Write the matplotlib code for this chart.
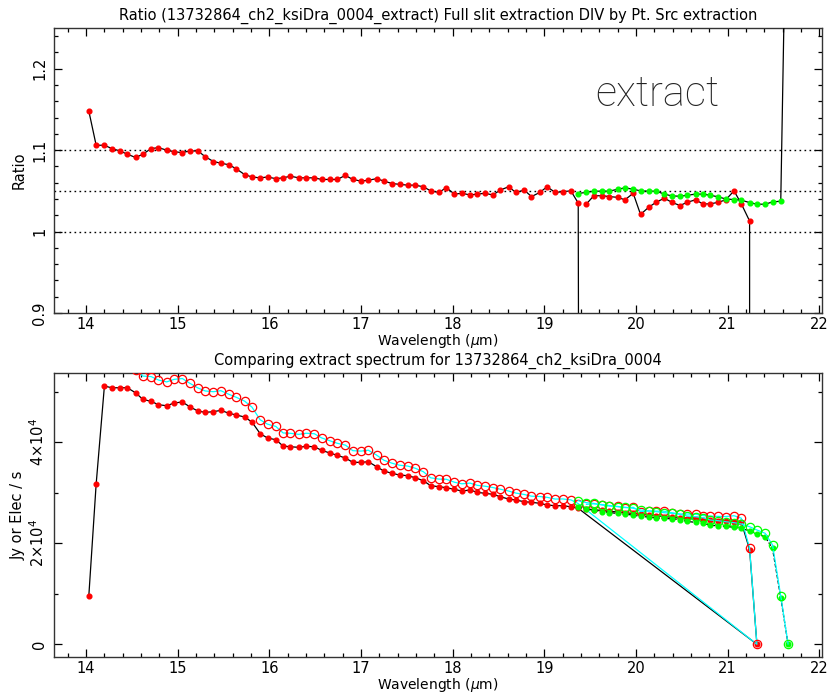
#!/usr/bin/env python3
""" ratio of full slit / point source extraction and the two spectra
"""
import numpy as np
import matplotlib
matplotlib.use('Agg')
import matplotlib.pyplot as plt
from matplotlib.ticker import MultipleLocator, FixedLocator, FixedFormatter

# wavelength grid (um), order 2 = k0..k86, bonus order = k63..k90
wave = [14.03, 14.11, 14.20, 14.28, 14.37, 14.45, 14.54, 14.62, 14.71, 14.79,
        14.88, 14.96, 15.05, 15.13, 15.22, 15.30, 15.39, 15.47, 15.56, 15.64,
        15.73, 15.81, 15.90, 15.98, 16.07, 16.15, 16.23, 16.32, 16.40, 16.49,
        16.57, 16.66, 16.74, 16.83, 16.91, 17.00, 17.08, 17.17, 17.25, 17.34,
        17.42, 17.51, 17.59, 17.68, 17.76, 17.85, 17.93, 18.02, 18.10, 18.19,
        18.27, 18.35, 18.44, 18.52, 18.61, 18.69, 18.78, 18.86, 18.95, 19.03,
        19.12, 19.20, 19.29, 19.37, 19.46, 19.54, 19.63, 19.71, 19.80, 19.88,
        19.97, 20.05, 20.14, 20.22, 20.31, 20.39, 20.48, 20.56, 20.65, 20.73,
        20.81, 20.90, 20.98, 21.07, 21.15, 21.24, 21.32, 21.41, 21.49, 21.58,
        21.66]

# order 2 (red)
ratio_o2 = [1.148, 1.106, 1.106, 1.102, 1.099, 1.095, 1.091, 1.095, 1.102, 1.103,
            1.100, 1.098, 1.097, 1.099, 1.099, 1.092, 1.086, 1.084, 1.082, 1.077,
            1.070, 1.067, 1.066, 1.067, 1.065, 1.066, 1.068, 1.066, 1.066, 1.066,
            1.064, 1.064, 1.064, 1.069, 1.064, 1.062, 1.063, 1.065, 1.062, 1.059,
            1.058, 1.057, 1.057, 1.055, 1.050, 1.048, 1.054, 1.046, 1.047, 1.045,
            1.046, 1.047, 1.045, 1.051, 1.055, 1.048, 1.051, 1.043, 1.048, 1.055,
            1.048, 1.049, 1.050, 1.035, 1.034, 1.044, 1.044, 1.043, 1.042, 1.039,
            1.047, 1.021, 1.030, 1.036, 1.041, 1.036, 1.032, 1.036, 1.039, 1.034,
            1.034, 1.036, 1.039, 1.050, 1.034, 1.013, -100.0]
ptsrc_o2 = [9620, 31740, 51140, 50800, 50800, 50800, 49800, 48500, 48100, 47440,
            47240, 47780, 47980, 47050, 46190, 45930, 46060, 46330, 45740, 45400,
            45000, 44010, 41700, 40850, 40510, 39260, 39120, 39000, 39200, 39120,
            38410, 37880, 37420, 36890, 36030, 36030, 36150, 35170, 34310, 33850,
            33520, 33390, 32990, 32400, 31400, 31210, 31010, 30680, 30350, 30550,
            30090, 29900, 29700, 29220, 28770, 28570, 28230, 28120, 27920, 27580,
            27440, 27440, 27240, 26930, 26800, 26650, 26500, 26350, 26200, 26050,
            25900, 25750, 25600, 25450, 25300, 25150, 25000, 24900, 24800, 24650,
            24550, 24450, 24350, 24250, 24150, 18760, 0]
full_o2 = [np.nan, np.nan, 56560, 55980, 55830, 55630, 54330, 53110, 53010, 52330,
           51960, 52460, 52630, 51710, 50760, 50160, 50020, 50220, 49490, 48900,
           48150, 46960, 44450, 43590, 43140, 41850, 41780, 41570, 41790, 41700,
           40870, 40300, 39810, 39440, 38340, 38260, 38430, 37460, 36440, 35850,
           35460, 35290, 34870, 34180, 32970, 32710, 32680, 32090, 31780, 31920,
           31470, 31310, 31040, 30710, 30350, 29940, 29670, 29330, 29260, 29100,
           28760, 28780, 28600, 27870, 27710, 27820, 27670, 27480, 27300, 27070,
           27120, 26290, 26370, 26370, 26340, 26060, 25800, 25800, 25770, 25490,
           25380, 25330, 25300, 25460, 24970, 19000, 0]

# bonus order (green)
ratio_o3 = [1.0467, 1.0483, 1.0496, 1.0496, 1.0496, 1.052, 1.0537, 1.052, 1.050,
            1.0496, 1.0496, 1.046, 1.0438, 1.0434, 1.0446, 1.046, 1.046, 1.0446,
            1.0426, 1.040, 1.0393, 1.0385, 1.0356, 1.0336, 1.0336, 1.0364,
            1.0373, 1.55]
full_o3 = [28440, 28040, 27900, 27580, 27380, 27250, 27130, 26930, 26590, 26450,
           26260, 26060, 25940, 25740, 25400, 25260, 25070, 24610, 24470, 24270,
           24080, 23820, 23280, 22630, 21980, 19660, 9560, 60]
ptsrc_o3 = [27170, 26750, 26580, 26280, 26090, 25900, 25750, 25600, 25320, 25200,
            25020, 24910, 24850, 24670, 24320, 24150, 23970, 23560, 23470, 23340,
            23170, 22940, 22480, 21890, 21270, 18970, 9220, 40]

ref_levels = [1.0, 1.05, 1.1]

plt.rcParams['font.family'] = ['DejaVu Sans']
plt.rcParams['font.size'] = 10


def idl_axes(ax):
    """ ticks inside on all four sides """
    ax.tick_params(which='both', direction='in', top=True, right=True,
                   labelsize=10.5, width=0.9)
    ax.tick_params(which='major', length=6)
    ax.tick_params(which='minor', length=3)
    ax.tick_params(axis='x', pad=3)
    ax.tick_params(axis='y', pad=5)
    for lab in ax.get_yticklabels():
        lab.set_rotation(90)
        lab.set_va('center')
    for sp in ax.spines.values():
        sp.set_linewidth(1.0)
        sp.set_color('#333333')
    ax.yaxis.set_label_coords(-0.046, 0.5)
    ax.yaxis.label.set_va('center')
    ax.xaxis.label.set_va('center')


wave = np.array(wave)
w2 = wave[:87]
w3 = wave[63:]
# plotting order of order 2: ascending to 19.37, then the last pixel, then back
order = list(range(64)) + [86] + list(range(85, 63, -1))

fig = plt.figure(figsize=(8.28, 6.94), dpi=100)
ax1 = fig.add_axes([54 / 828, 1 - 313 / 694, 768 / 828, 285 / 694])
ax2 = fig.add_axes([54 / 828, 1 - 657 / 694, 768 / 828, 284.3 / 694])

# ---- top: ratio
for lev in ref_levels:
    ax1.axhline(lev, color='black', lw=1.0, ls=(0, (1.2, 2.4)), zorder=1)
ax1.plot(w2[order], np.array(ratio_o2)[order], color='black', lw=0.9,
         marker='o', ms=3.4, mfc='red', mec='red', zorder=2)
ax1.plot(w3, ratio_o3, color='black', lw=0.9,
         marker='o', ms=3.4, mfc='#00ff00', mec='#00ff00', zorder=3)
ax1.set_xlim(13.65, 22.03)
ax1.set_ylim(0.9, 1.25)
ax1.xaxis.set_major_locator(MultipleLocator(1))
ax1.xaxis.set_minor_locator(MultipleLocator(0.2))
ax1.yaxis.set_major_locator(FixedLocator([0.9, 1.0, 1.1, 1.2]))
ax1.yaxis.set_major_formatter(FixedFormatter(['0.9', '1', '1.1', '1.2']))
ax1.yaxis.set_minor_locator(MultipleLocator(0.02))
ax1.set_title('Ratio (13732864_ch2_ksiDra_0004_extract) Full slit extraction '
              'DIV by Pt. Src extraction', fontsize=10.5, pad=6)
ax1.set_ylabel('Ratio', fontsize=10.5)
ax1.set_xlabel(r'Wavelength ($\mu$m)', fontsize=10)
idl_axes(ax1)
ax1.xaxis.set_label_coords(0.5, -0.098)
ax1.text(0.786, 0.768, 'extract', transform=ax1.transAxes, ha='center',
         va='center', fontsize=30, fontweight='light', family=['Roboto', 'DejaVu Sans'],
         color='#222222')

# ---- bottom: spectra
ax2.plot(w2[order], np.array(ptsrc_o2)[order], color='black', lw=0.9,
         marker='o', ms=3.4, mfc='red', mec='red', zorder=2)
ax2.plot(w2[order], np.array(full_o2)[order], color='#00ffff', lw=0.9,
         marker='o', ms=6, mfc='none', mec='red', mew=0.9, zorder=3)
ax2.plot(w3, ptsrc_o3, color='black', lw=0.9, ls=(0, (3, 1.5)),
         marker='o', ms=3.4, mfc='#00ff00', mec='#00ff00', zorder=4)
ax2.plot(w3, full_o3, color='#00ffff', lw=0.9,
         marker='o', ms=6, mfc='none', mec='#00ff00', mew=0.9, zorder=5)
ax2.set_xlim(13.65, 22.03)
ax2.set_ylim(-2515, 53780)
ax2.xaxis.set_major_locator(MultipleLocator(1))
ax2.xaxis.set_minor_locator(MultipleLocator(0.2))
ax2.yaxis.set_major_locator(FixedLocator([0, 20000, 40000]))
ax2.yaxis.set_major_formatter(FixedFormatter(['0', r'$2{\times}10^4$', r'$4{\times}10^4$']))
ax2.yaxis.set_minor_locator(MultipleLocator(10000))
ax2.set_title('Comparing extract spectrum for 13732864_ch2_ksiDra_0004',
              fontsize=10.5, pad=6)
ax2.set_ylabel('Jy or Elec / s', fontsize=10.5)
ax2.set_xlabel(r'Wavelength ($\mu$m)', fontsize=10)
idl_axes(ax2)
ax2.xaxis.set_label_coords(0.5, -0.0985)

fig.savefig('out.png', dpi=100)
